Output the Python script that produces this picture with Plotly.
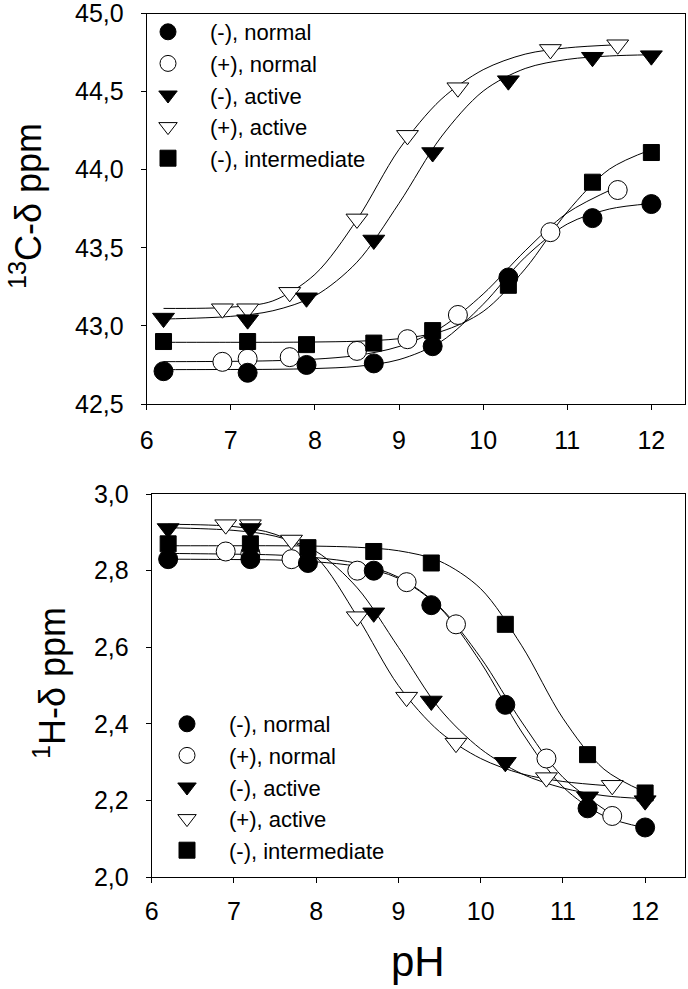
import plotly.graph_objects as go

# ---------------- data ----------------
pH_minus = [6.2, 7.2, 7.9, 8.7, 9.4, 10.3, 11.3, 12.0]
pH_plus = [6.9, 7.2, 7.7, 8.5, 9.1, 9.7, 10.8, 11.6]
pH_minus_active_h = [6.2, 7.2, 8.7, 9.4, 10.3, 11.3, 12.0]

# 13C-delta (ppm)
c_neg_normal = [42.71, 42.70, 42.75, 42.76, 42.87, 43.31, 43.69, 43.78]
c_pos_normal = [42.77, 42.79, 42.80, 42.84, 42.915, 43.07, 43.60, 43.87]
c_neg_active = [43.05, 43.04, 43.18, 43.55, 44.11, 44.57, 44.72, 44.73]
c_pos_active = [43.11, 43.11, 43.215, 43.685, 44.22, 44.525, 44.77, 44.80]
c_neg_inter = [42.90, 42.90, 42.88, 42.89, 42.97, 43.26, 43.92, 44.11]

# 1H-delta (ppm)
h_neg_normal = [2.83, 2.83, 2.82, 2.80, 2.71, 2.45, 2.18, 2.13]
h_pos_normal = [2.85, 2.845, 2.83, 2.80, 2.77, 2.66, 2.31, 2.16]
h_neg_active = [2.91, 2.91, 2.69, 2.46, 2.30, 2.21, 2.20]
h_pos_active = [2.92, 2.92, 2.88, 2.68, 2.47, 2.35, 2.26, 2.24]
h_neg_inter = [2.87, 2.87, 2.86, 2.85, 2.82, 2.66, 2.32, 2.22]

# fitted titration curves
fit_pH_minus = [6.2, 7.0, 7.5, 8.0, 8.5, 9.0, 9.5, 10.0, 10.5, 11.0, 11.5, 12.0]
fit_pH_plus = [6.2, 7.0, 7.5, 8.0, 8.5, 9.0, 9.5, 10.0, 10.5, 11.0, 11.6]

fit_c_neg_normal = [42.720, 42.721, 42.722, 42.727, 42.741, 42.784, 42.900, 43.138, 43.440, 43.652, 43.748, 43.783]
fit_c_pos_normal = [42.771, 42.773, 42.777, 42.787, 42.811, 42.868, 42.989, 43.204, 43.481, 43.723, 43.892]
fit_c_neg_active = [43.044, 43.061, 43.097, 43.192, 43.408, 43.785, 44.209, 44.503, 44.648, 44.706, 44.728, 44.736]
fit_c_pos_active = [43.112, 43.120, 43.160, 43.330, 43.680, 44.130, 44.450, 44.640, 44.740, 44.780, 44.800]
fit_c_neg_inter = [42.895, 42.895, 42.895, 42.897, 42.902, 42.918, 42.964, 43.092, 43.365, 43.730, 44.003, 44.129]

fit_h_neg_normal = [2.830, 2.829, 2.828, 2.823, 2.811, 2.780, 2.704, 2.561, 2.379, 2.236, 2.160, 2.129]
fit_h_pos_normal = [2.845, 2.843, 2.841, 2.834, 2.819, 2.783, 2.706, 2.573, 2.405, 2.261, 2.163]
fit_h_neg_active = [2.912, 2.905, 2.890, 2.850, 2.755, 2.600, 2.440, 2.335, 2.270, 2.233, 2.213, 2.205]
fit_h_pos_active = [2.921, 2.915, 2.895, 2.835, 2.680, 2.500, 2.380, 2.310, 2.270, 2.250, 2.238]
fit_h_neg_inter = [2.865, 2.865, 2.865, 2.864, 2.861, 2.852, 2.825, 2.753, 2.604, 2.415, 2.282, 2.222]

names = ["(-), normal", "(+), normal", "(-), active", "(+), active", "(-), intermediate"]

# ---------------- styling ----------------
W, H = 688, 989
FONT = "Arial, 'Liberation Sans', sans-serif"


def fx(p):  # window pixel -> paper fraction
    return p / W


def fy(p):
    return 1 - p / H


marker_styles = [
    dict(symbol="circle", size=19, color="black", line=dict(color="black", width=1)),
    dict(symbol="circle", size=19, color="white", line=dict(color="black", width=1)),
    dict(symbol="triangle-down", size=19, color="black", line=dict(color="black", width=1)),
    dict(symbol="triangle-down", size=19, color="white", line=dict(color="black", width=1)),
    dict(symbol="square", size=16, color="black", line=dict(color="black", width=1)),
]

top_pts = [(pH_minus, c_neg_normal), (pH_plus, c_pos_normal), (pH_minus, c_neg_active),
           (pH_plus, c_pos_active), (pH_minus, c_neg_inter)]
bot_pts = [(pH_minus, h_neg_normal), (pH_plus, h_pos_normal), (pH_minus_active_h, h_neg_active),
           (pH_plus, h_pos_active), (pH_minus, h_neg_inter)]
top_fit = [(fit_pH_minus, fit_c_neg_normal), (fit_pH_plus, fit_c_pos_normal), (fit_pH_minus, fit_c_neg_active),
           (fit_pH_plus, fit_c_pos_active), (fit_pH_minus, fit_c_neg_inter)]
bot_fit = [(fit_pH_minus, fit_h_neg_normal), (fit_pH_plus, fit_h_pos_normal), (fit_pH_minus, fit_h_neg_active),
           (fit_pH_plus, fit_h_pos_active), (fit_pH_minus, fit_h_neg_inter)]

fig = go.Figure()

# curves first
for fits, xa, ya in [(top_fit, "x", "y"), (bot_fit, "x2", "y2")]:
    for fxs, fys in fits:
        fig.add_trace(go.Scatter(x=fxs, y=fys, mode="lines", xaxis=xa, yaxis=ya,
                                 line=dict(color="black", width=1, shape="spline", smoothing=0.9),
                                 showlegend=False, hoverinfo="skip"))

# markers: open symbols first, filled on top
draw_order = [1, 3, 0, 2, 4]
for pts, xa, ya, lg in [(top_pts, "x", "y", "legend"), (bot_pts, "x2", "y2", "legend2")]:
    for i in draw_order:
        xs, ys = pts[i]
        fig.add_trace(go.Scatter(x=xs, y=ys, mode="markers", xaxis=xa, yaxis=ya,
                                 name=names[i], marker=marker_styles[i],
                                 legend=lg, legendrank=i + 1, showlegend=True))

axis_common = dict(showgrid=False, zeroline=False, showline=True, linecolor="black", linewidth=1,
                   mirror=True, ticks="outside", ticklen=5, tickwidth=1, tickcolor="black",
                   automargin=False, ticklabeloverflow="allow",
                   tickfont=dict(family=FONT, size=25, color="black"))

legend_common = dict(xanchor="left", yanchor="top", itemwidth=74,
                     font=dict(family=FONT, size=22, color="black"), bgcolor="rgba(0,0,0,0)",
                     borderwidth=0, traceorder="normal", tracegroupgap=0)

fig.update_layout(
    template="none",
    width=W, height=H, autosize=False,
    margin=dict(l=0, r=0, t=0, b=0, pad=0),
    paper_bgcolor="white", plot_bgcolor="white",
    separators=",.",
    font=dict(family=FONT, color="black"),
    hovermode=False,
    xaxis=dict(domain=[fx(146.7), fx(685)], range=[6, 12.40], tick0=6, dtick=1, anchor="y",
               ticklabelstandoff=9, **axis_common),
    yaxis=dict(domain=[fy(404), fy(13.5)], range=[42.5, 45], tick0=42.5, dtick=0.5, tickformat=".1f",
               anchor="x", ticklabelstandoff=12, **axis_common),
    xaxis2=dict(domain=[fx(151.7), fx(684.6)], range=[6, 12.48], tick0=6, dtick=1, anchor="y2",
                ticklabelstandoff=7, **axis_common),
    yaxis2=dict(domain=[fy(877.3), fy(494)], range=[2, 3], tick0=2, dtick=0.2, tickformat=".1f",
                anchor="x2", ticklabelstandoff=12, **axis_common),
    legend=dict(x=fx(126), y=fy(11), **legend_common),
    legend2=dict(x=fx(145), y=fy(703), **legend_common),
    annotations=[
        dict(text="<sup>13</sup>C-δ ppm", x=fx(26), y=fy(206), xref="paper", yref="paper",
             textangle=-90, showarrow=False, xanchor="center", yanchor="middle",
             font=dict(family=FONT, size=36, color="black")),
        dict(text="<sup>1</sup>H-δ ppm", x=fx(50), y=fy(683), xref="paper", yref="paper",
             textangle=-90, showarrow=False, xanchor="center", yanchor="middle",
             font=dict(family=FONT, size=36, color="black")),
        dict(text="pH", x=fx(418), y=fy(961), xref="paper", yref="paper",
             showarrow=False, xanchor="center", yanchor="middle",
             font=dict(family=FONT, size=42, color="black")),
    ],
)

# the figure fills the whole window: drop the page's default body margin
fig.write_html("out.html", config={"displayModeBar": False},
               post_script="document.body.style.margin='0';")
